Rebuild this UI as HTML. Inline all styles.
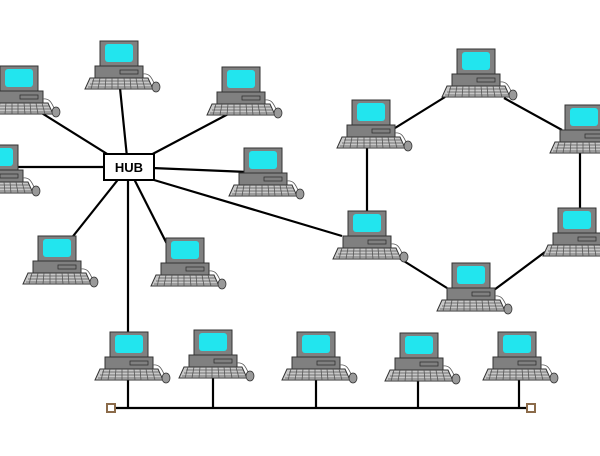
<!DOCTYPE html><html><head><style>body{margin:0;background:#fff}</style></head><body>
<svg width="600" height="451" viewBox="0 0 600 451" xmlns="http://www.w3.org/2000/svg">
<defs>
<g id="pc">
<rect x="0" y="0" width="38" height="25" fill="#808080" stroke="#333" stroke-width="1"/>
<rect x="5" y="3" width="28" height="18" rx="3" fill="#22e5ee"/>
<rect x="-5" y="25" width="48" height="12" fill="#808080" stroke="#333" stroke-width="1"/>
<rect x="20" y="29" width="18" height="4" fill="none" stroke="#333" stroke-width="0.8"/>
<polygon points="-10,37 48,37 53,48 -15,48" fill="#c8c8c8" stroke="#333" stroke-width="1"/>
<path d="M-8,40H49M-10,43H51M-12,46H52" stroke="#555" stroke-width="0.8"/>
<path d="M-6,37L-9,48M0,37L-2,48M6,37L5,48M12,37L12,48M18,37L18,48M24,37L25,48M30,37L31,48M36,37L38,48M42,37L45,48" stroke="#555" stroke-width="0.8"/>
<path d="M43,33C50,32 52,38 54,42" fill="none" stroke="#555" stroke-width="0.8"/>
<ellipse cx="56" cy="46" rx="4" ry="5" fill="#999" stroke="#333" stroke-width="0.8"/>
</g>
</defs>
<g stroke="#000" stroke-width="2.2" fill="none">
<line x1="128" y1="167" x2="120" y2="88"/>
<line x1="128" y1="167" x2="40" y2="112"/>
<line x1="128" y1="167" x2="232" y2="112"/>
<line x1="128" y1="167" x2="10" y2="167"/>
<line x1="128" y1="167" x2="248" y2="172"/>
<line x1="128" y1="167" x2="70" y2="240"/>
<line x1="128" y1="167" x2="170" y2="250"/>
<line x1="128" y1="167" x2="128" y2="332"/>
<line x1="154" y1="180" x2="342" y2="236"/>
<line x1="395" y1="128" x2="445" y2="97"/>
<line x1="504" y1="98" x2="562" y2="130"/>
<line x1="580" y1="150" x2="580" y2="210"/>
<line x1="545" y1="252" x2="494" y2="290"/>
<line x1="447" y1="288" x2="399" y2="258"/>
<line x1="367" y1="146" x2="367" y2="212"/>
<line x1="111" y1="408" x2="531" y2="408"/>
<line x1="128" y1="380" x2="128" y2="408"/>
<line x1="213" y1="378" x2="213" y2="408"/>
<line x1="316" y1="380" x2="316" y2="408"/>
<line x1="418" y1="381" x2="418" y2="408"/>
<line x1="519" y1="380" x2="519" y2="408"/>
</g>
<rect x="107" y="404" width="8" height="8" fill="#fff" stroke="#8b6b4a" stroke-width="2"/>
<rect x="527" y="404" width="8" height="8" fill="#fff" stroke="#8b6b4a" stroke-width="2"/>
<rect x="104" y="154" width="50" height="26" fill="#fff" stroke="#000" stroke-width="2"/>
<text x="129" y="172" text-anchor="middle" font-family="Liberation Sans, sans-serif" font-weight="bold" font-size="13">HUB</text>
<use href="#pc" x="100" y="41"/>
<use href="#pc" x="0" y="66"/>
<use href="#pc" x="222" y="67"/>
<use href="#pc" x="-20" y="145"/>
<use href="#pc" x="244" y="148"/>
<use href="#pc" x="38" y="236"/>
<use href="#pc" x="166" y="238"/>
<use href="#pc" x="352" y="100"/>
<use href="#pc" x="457" y="49"/>
<use href="#pc" x="565" y="105"/>
<use href="#pc" x="558" y="208"/>
<use href="#pc" x="348" y="211"/>
<use href="#pc" x="452" y="263"/>
<use href="#pc" x="110" y="332"/>
<use href="#pc" x="194" y="330"/>
<use href="#pc" x="297" y="332"/>
<use href="#pc" x="400" y="333"/>
<use href="#pc" x="498" y="332"/>
</svg>
</body></html>
